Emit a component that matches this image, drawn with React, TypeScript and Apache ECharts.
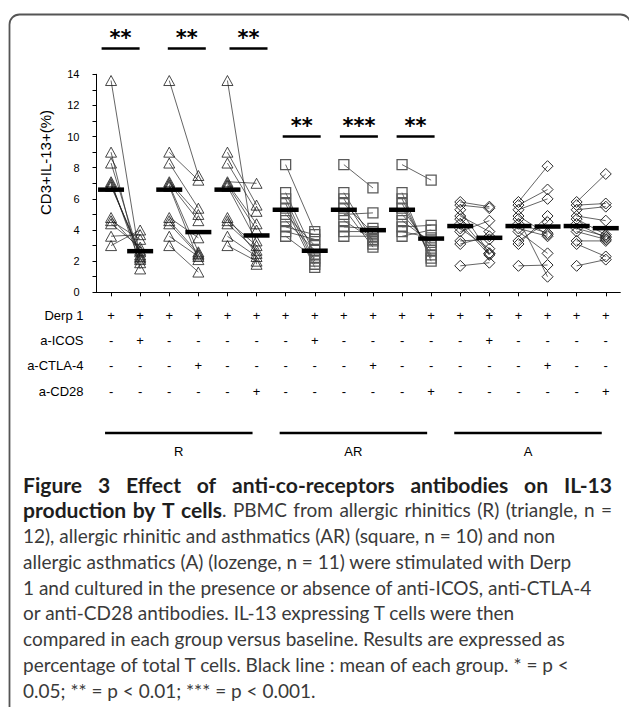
import React, { useEffect, useRef } from 'react';
import * as echarts from 'echarts';

// ---------- data ----------
const columns = ['1', '2', '3', '4', '5', '6', '7', '8', '9', '10', '11', '12', '13', '14', '15', '16', '17', '18'];

const rowNames = ['Derp 1', 'a-ICOS', 'a-CTLA-4', 'a-CD28'];
const derp1Row = ['+', '+', '+', '+', '+', '+', '+', '+', '+', '+', '+', '+', '+', '+', '+', '+', '+', '+'];
const icosRow = ['-', '+', '-', '-', '-', '-', '-', '+', '-', '-', '-', '-', '-', '+', '-', '-', '-', '-'];
const ctla4Row = ['-', '-', '-', '+', '-', '-', '-', '-', '-', '+', '-', '-', '-', '-', '-', '+', '-', '-'];
const cd28Row = ['-', '-', '-', '-', '-', '+', '-', '-', '-', '-', '-', '+', '-', '-', '-', '-', '-', '+'];

const groupNames = ['R', 'AR', 'A'];

// R: allergic rhinitics (triangles, n = 12)
const rBaseline = [13.6, 9.0, 8.3, 7.1, 7.0, 6.9, 6.8, 4.8, 4.6, 4.4, 3.6, 3.0];
const rIcos = [2.1, 1.5, 2.2, 1.9, 2.3, 2.4, 2.6, 2.7, 3.4, 2.9, 3.7, 4.0];
const rCtla4 = [7.5, 7.2, 5.4, 5.0, 4.6, 2.6, 2.1, 3.5, 2.5, 2.4, 2.3, 1.3];
const rCd28 = [1.8, 5.6, 5.2, 7.0, 4.4, 4.0, 3.3, 2.5, 3.0, 2.7, 2.3, 2.0];

// AR: allergic rhinitic and asthmatics (squares, n = 10)
const arBaseline = [8.2, 6.4, 6.0, 5.7, 5.4, 5.0, 4.6, 4.2, 3.9, 3.6];
const arIcos = [3.9, 2.4, 2.0, 1.8, 1.6, 3.0, 2.7, 3.7, 3.4, 2.2];
const arCtla4 = [6.7, 3.3, 3.1, 3.8, 2.9, 5.1, 3.4, 4.1, 3.9, 3.6];
const arCd28 = [7.2, 2.0, 2.2, 2.4, 2.7, 3.0, 3.2, 4.3, 3.5, 4.0];

// A: non allergic asthmatics (lozenges, n = 11)
const aBaseline = [5.8, 5.6, 5.3, 4.9, 4.7, 4.4, 4.1, 3.9, 3.3, 3.1, 1.7];
const aIcos = [5.5, 5.4, 2.5, 3.9, 2.5, 2.4, 2.8, 4.6, 3.4, 3.6, 1.9];
const aCtla4 = [8.1, 6.6, 6.0, 3.7, 1.0, 3.8, 3.6, 2.5, 4.5, 4.9, 1.75];
const aCd28 = [7.6, 5.7, 5.5, 4.6, 3.7, 3.5, 3.6, 3.4, 3.3, 2.3, 2.1];

const columnData = [
  rBaseline, rIcos, rBaseline, rCtla4, rBaseline, rCd28,
  arBaseline, arIcos, arBaseline, arCtla4, arBaseline, arCd28,
  aBaseline, aIcos, aBaseline, aCtla4, aBaseline, aCd28,
];

const sigColumns = [0, 2, 4, 6, 8, 10];
const sigLabels = ['**', '**', '**', '**', '***', '**'];

const yMin = 0;
const yMax = 14;
const yInterval = 2;
const yName = 'CD3+IL-13+(%)';

const captionLines = [
  [{ t: 'Figure 3 Effect of anti-co-receptors antibodies on IL-13', b: true }],
  [{ t: 'production by T cells', b: true }, { t: '. PBMC from allergic rhinitics (R) (triangle, n =', b: false }],
  [{ t: '12), allergic rhinitic and asthmatics (AR) (square, n = 10) and non', b: false }],
  [{ t: 'allergic asthmatics (A) (lozenge, n = 11) were stimulated with Derp', b: false }],
  [{ t: '1 and cultured in the presence or absence of anti-ICOS, anti-CTLA-4', b: false }],
  [{ t: 'or anti-CD28 antibodies. IL-13 expressing T cells were then', b: false }],
  [{ t: 'compared in each group versus baseline. Results are expressed as', b: false }],
  [{ t: 'percentage of total T cells. Black line : mean of each group. * = p <', b: false }],
  [{ t: '0.05; ** = p < 0.01; *** = p < 0.001.', b: false }],
];

// ---------- layout ----------
const W = 629;
const H = 707;
const GRID = { left: 96.5, top: 74.3, width: 523.8, height: 218 };
const AXIS_Y = GRID.top + GRID.height;
const ROW_Y = [315, 340, 365.5, 391];
const groupSymbols = ['triangle', 'rect', 'diamond'];
const groupSymbolSizes: any[] = [[11, 10], [10, 10], [11, 11]];
const groupBorders = ['#1a1a1a', '#5a5a5a', '#2a2a2a'];
const groupBorderWidths = [0.8, 1.3, 1.0];
const sigOffsets = [-5, 3, 6.5, 1.5, 0.5, -1];
const SIG_BAR_Y = [48.5, 48.5, 48.5, 136.5, 136.5, 136.5];
const SIG_HALF = 19;
const GROUP_LINE_Y = 433;
const GROUP_LABEL_Y = 451;
const CAP_X = 23;
const CAP_RIGHT = 612;
const CAP_Y0 = 484;
const CAP_DY = 25.75;
const CAP_TARGETS = [0, 0, 562, 580, 588, 507, 568, 587, 309];
const CAP_FONT = 'Lato, "Open Sans", sans-serif';
const AXIS_FONT = '"Liberation Sans", Arial, sans-serif';
const BOLD_SCALE = 1.11;

const mean = (a: number[]) => a.reduce((s, v) => s + v, 0) / a.length;

export default function App() {
  const ref = useRef<HTMLDivElement>(null);

  useEffect(() => {
    if (!ref.current) return;
    const chart = echarts.init(ref.current, null, { renderer: 'svg' });

    const segs: number[][] = [];
    for (let p = 0; p < 9; p++) {
      const c0 = 2 * p;
      const c1 = 2 * p + 1;
      const a = columnData[c0];
      const b = columnData[c1];
      a.forEach((v, i) => segs.push([c0, v, c1, b[i]]));
    }

    const series: any[] = [];
    series.push({
      type: 'custom',
      data: segs,
      encode: { x: [0, 2], y: [1, 3] },
      silent: true,
      z: 2,
      renderItem: (_p: any, api: any) => {
        const p0 = api.coord([api.value(0), api.value(1)]);
        const p1 = api.coord([api.value(2), api.value(3)]);
        return {
          type: 'line',
          shape: { x1: p0[0], y1: p0[1], x2: p1[0], y2: p1[1] },
          style: { stroke: '#222', lineWidth: 0.7 },
        };
      },
    });

    for (let g = 0; g < 3; g++) {
      const data: number[][] = [];
      for (let c = 6 * g; c < 6 * g + 6; c++) {
        columnData[c].forEach((v) => data.push([c, v]));
      }
      series.push({
        type: 'scatter',
        symbol: groupSymbols[g],
        symbolSize: groupSymbolSizes[g],
        data,
        silent: true,
        z: 3,
        itemStyle: {
          color: 'rgba(255,255,255,0)',
          borderColor: groupBorders[g],
          borderWidth: groupBorderWidths[g],
          opacity: 1,
        },
      });
    }

    series.push({
      type: 'scatter',
      symbol: 'rect',
      symbolSize: [26, 4.5],
      data: columnData.map((vals, c) => [c, mean(vals)]),
      silent: true,
      z: 5,
      itemStyle: { color: '#000', opacity: 1 },
    });

    const rows = [derp1Row, icosRow, ctla4Row, cd28Row];
    const rowAxes = rows.map((row, i) => ({
      type: 'category',
      gridIndex: 0,
      data: row,
      position: 'bottom',
      offset: ROW_Y[i] - AXIS_Y,
      axisLine: { show: false, lineStyle: { color: '#000' } },
      axisTick: { show: false },
      axisLabel: {
        show: true,
        interval: 0,
        margin: 0,
        verticalAlign: 'middle',
        fontFamily: AXIS_FONT,
        fontSize: 13,
        color: '#000',
      },
      name: rowNames[i],
      nameLocation: 'start',
      nameGap: 13,
      nameTextStyle: {
        fontFamily: AXIS_FONT,
        fontSize: 13,
        color: '#000',
        align: 'right',
        verticalAlign: 'middle',
      },
    }));

    const option: any = {
      animation: false,
      backgroundColor: '#fff',
      textStyle: { color: '#000' },
      grid: { ...GRID, containLabel: false },
      xAxis: [
        {
          type: 'category',
          data: columns,
          boundaryGap: true,
          axisLine: { show: true, lineStyle: { color: '#000', width: 1 } },
          axisTick: { show: true, alignWithLabel: true, length: 4, lineStyle: { color: '#000' } },
          axisLabel: { show: false },
          splitLine: { show: false },
        },
        ...rowAxes,
      ],
      yAxis: {
        type: 'value',
        min: yMin,
        max: yMax,
        interval: yInterval,
        axisLine: { show: true, lineStyle: { color: '#000', width: 1 } },
        axisTick: { show: true, length: 4, lineStyle: { color: '#000' } },
        minorTick: { show: true, splitNumber: 2, length: 4, lineStyle: { color: '#000' } },
        splitLine: { show: false },
        axisLabel: { fontFamily: AXIS_FONT, fontSize: 11, color: '#000', margin: 17 },
      },
      series,
    };
    chart.setOption(option);

    // ---- annotations placed via the axis scale ----
    const px = (c: number) => chart.convertToPixel({ xAxisIndex: 0 }, c) as unknown as number;
    const elements: any[] = [];

    elements.push({
      type: 'rect',
      shape: { x: 9.5, y: 14.5, width: 621, height: 740, r: 10 },
      style: { fill: 'none', stroke: '#555', lineWidth: 1.8 },
      silent: true,
    });

    elements.push({
      type: 'text',
      x: 45,
      y: 162.5,
      rotation: Math.PI / 2,
      style: {
        text: yName,
        fontFamily: AXIS_FONT,
        fontSize: 15,
        fill: '#000',
        align: 'center',
        verticalAlign: 'middle',
      },
    });

    sigColumns.forEach((c, i) => {
      const cx = (px(c) + px(c + 1)) / 2 + sigOffsets[i];
      const by = SIG_BAR_Y[i];
      elements.push({
        type: 'line',
        shape: { x1: cx - SIG_HALF, y1: by, x2: cx + SIG_HALF, y2: by },
        style: { stroke: '#000', lineWidth: 2.5 },
      });
      elements.push({
        type: 'text',
        x: cx,
        y: by - 11,
        style: {
          text: sigLabels[i],
          fontFamily: '"DejaVu Sans", sans-serif',
          fontWeight: 'bold',
          fontSize: 21,
          fill: '#000',
          align: 'center',
          verticalAlign: 'middle',
        },
      });
    });

    groupNames.forEach((name, g) => {
      const x1 = px(6 * g) - 6;
      const x2 = px(6 * g + 5) - 4;
      elements.push({
        type: 'line',
        shape: { x1, y1: GROUP_LINE_Y, x2, y2: GROUP_LINE_Y },
        style: { stroke: '#000', lineWidth: 2.5 },
      });
      elements.push({
        type: 'text',
        x: (x1 + x2) / 2,
        y: GROUP_LABEL_Y,
        style: {
          text: name,
          fontFamily: AXIS_FONT,
          fontSize: 13,
          fill: '#000',
          align: 'center',
          verticalAlign: 'middle',
        },
      });
    });

    // ---- caption ----
    const canvas = document.createElement('canvas');
    const ctx = canvas.getContext('2d')!;
    const measure = (t: string, size: number, bold: boolean) => {
      ctx.font = `${bold ? 'bold ' : ''}${size}px ${CAP_FONT}`;
      return ctx.measureText(t).width;
    };
    let natural = 0;
    let target = 0;
    for (let i = 2; i < captionLines.length; i++) {
      natural += measure(captionLines[i].map((s) => s.t).join(''), 16, false);
      target += CAP_TARGETS[i];
    }
    let capSize = natural > 0 ? (16 * target) / natural : 16.5;
    capSize = Math.max(14, Math.min(19, capSize));
    const sz = (b: boolean) => (b ? capSize * BOLD_SCALE : capSize);

    captionLines.forEach((line, li) => {
      const y = CAP_Y0 + li * CAP_DY;
      if (li < 2) {
        // justified line
        const words: { t: string; b: boolean }[][] = [];
        let cur: { t: string; b: boolean }[] = [];
        line.forEach((seg) => {
          const parts = seg.t.split(' ');
          parts.forEach((part, pi) => {
            if (pi > 0) {
              if (cur.length) words.push(cur);
              cur = [];
            }
            if (part.length) cur.push({ t: part, b: seg.b });
          });
        });
        if (cur.length) words.push(cur);
        const widths = words.map((w) => w.reduce((s, seg) => s + measure(seg.t, sz(seg.b), seg.b), 0));
        const total = widths.reduce((s, v) => s + v, 0);
        const gap = (CAP_RIGHT - CAP_X - total) / (words.length - 1);
        let x = CAP_X;
        words.forEach((w, wi) => {
          let sx = x;
          w.forEach((seg) => {
            elements.push({
              type: 'text',
              x: sx,
              y,
              style: {
                text: seg.t,
                fontFamily: CAP_FONT,
                fontWeight: seg.b ? 'bold' : 'normal',
                fontSize: sz(seg.b),
                fill: seg.b ? '#1e1e1e' : '#3a3a3a',
                align: 'left',
                verticalAlign: 'middle',
              },
            });
            sx += measure(seg.t, sz(seg.b), seg.b);
          });
          x += widths[wi] + gap;
        });
      } else {
        elements.push({
          type: 'text',
          x: CAP_X,
          y,
          style: {
            text: line.map((s) => s.t).join(''),
            fontFamily: CAP_FONT,
            fontSize: capSize,
            fill: '#3a3a3a',
            align: 'left',
            verticalAlign: 'middle',
          },
        });
      }
    });

    chart.setOption({ graphic: { elements } });

    return () => {
      chart.dispose();
    };
  }, []);

  return (
    <div
      ref={ref}
      style={{ position: 'absolute', left: 0, top: 0, width: W, height: H, background: '#fff' }}
    />
  );
}
